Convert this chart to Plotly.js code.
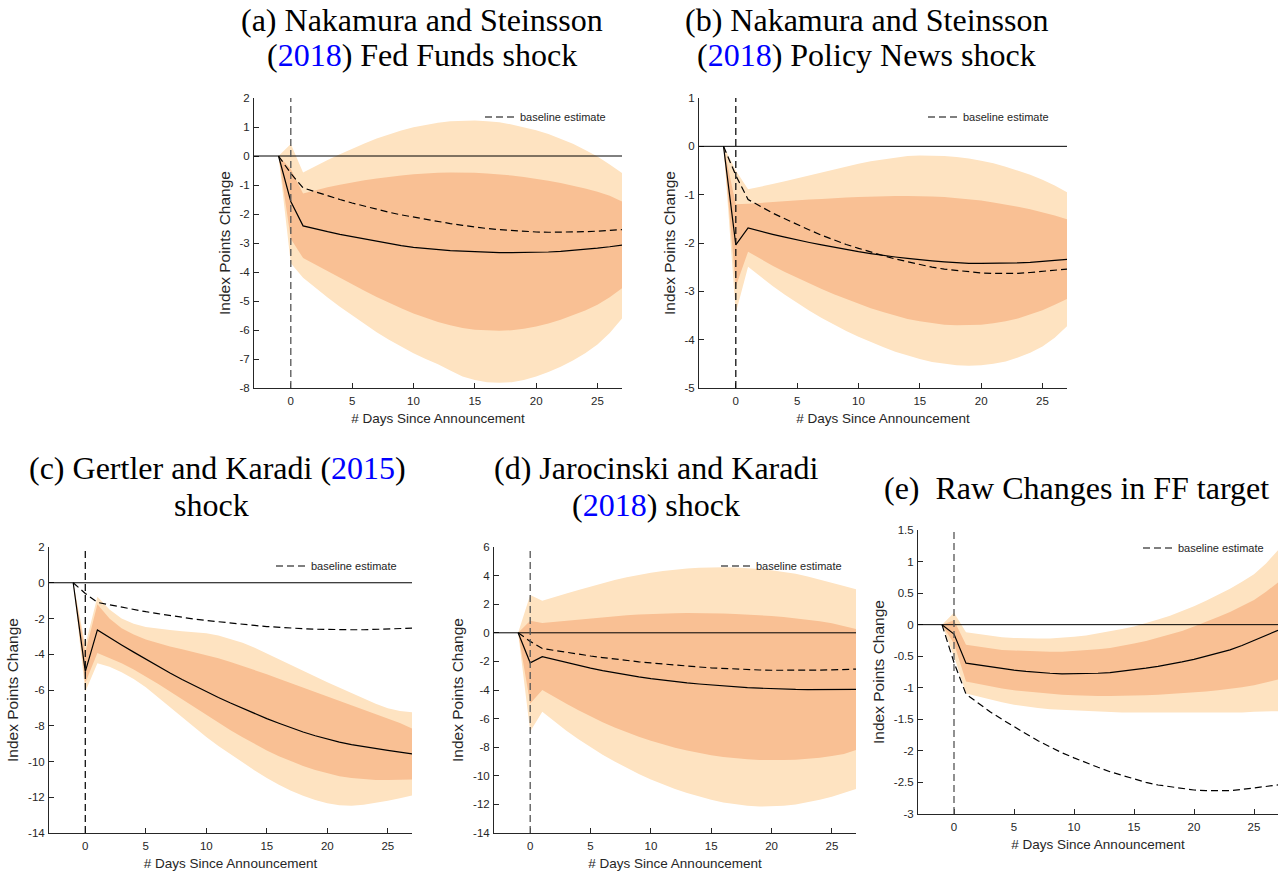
<!DOCTYPE html>
<html><head><meta charset="utf-8">
<script src="https://cdn.plot.ly/plotly-3.0.1.min.js"></script>
<style>html,body{margin:0;padding:0;background:#fff}#chart{width:1288px;height:873px}</style>
</head><body><div id="chart"></div>
<script>
// ---- data: days since announcement ----
const days = [-1,0,1,2,3,4,5,6,7,8,9,10,11,12,13,14,15,16,17,18,19,20,21,22,23,24,25,26,27];
const xTicks = [0,5,10,15,20,25];
const legendLabel = 'baseline estimate';
const panelTitles = [
  ['(a) Nakamura and Steinsson', '(<span style="color:#0000ff">2018</span>) Fed Funds shock'],
  ['(b) Nakamura and Steinsson', '(<span style="color:#0000ff">2018</span>) Policy News shock'],
  ['(c) Gertler and Karadi (<span style="color:#0000ff">2015</span>)', 'shock'],
  ['(d) Jarocinski and Karadi', '(<span style="color:#0000ff">2018</span>) shock'],
  ['(e)  Raw Changes in FF target']
];
const xTitle = '# Days Since Announcement';
const yTitle = 'Index Points Change';

// baseline estimate (same in every panel)
const baselineEstimate = [0,-0.6,-1.1,-1.24,-1.38,-1.5,-1.62,-1.73,-1.84,-1.94,-2.03,-2.11,-2.19,-2.26,-2.33,-2.39,-2.45,-2.5,-2.54,-2.57,-2.6,-2.62,-2.63,-2.63,-2.63,-2.61,-2.59,-2.57,-2.54];

// (a) Fed Funds shock
const aIRF    = [0,-1.57,-2.41,-2.52,-2.61,-2.7,-2.78,-2.87,-2.95,-3.02,-3.09,-3.15,-3.19,-3.23,-3.26,-3.28,-3.3,-3.32,-3.33,-3.33,-3.33,-3.32,-3.31,-3.29,-3.26,-3.22,-3.18,-3.13,-3.07];
const aOutHi  = [0,0.41,-0.57,-0.35,-0.14,0.06,0.25,0.43,0.6,0.75,0.88,0.99,1.08,1.15,1.2,1.22,1.22,1.2,1.16,1.09,1.0,0.89,0.76,0.6,0.42,0.21,-0.02,-0.29,-0.59];
const aInHi   = [0,-0.45,-1.29,-1.18,-1.08,-0.99,-0.91,-0.84,-0.78,-0.72,-0.67,-0.63,-0.6,-0.58,-0.57,-0.57,-0.58,-0.6,-0.63,-0.67,-0.72,-0.78,-0.85,-0.93,-1.02,-1.12,-1.23,-1.37,-1.57];
const aInLo   = [0,-2.85,-3.52,-3.75,-3.97,-4.2,-4.43,-4.65,-4.86,-5.06,-5.25,-5.43,-5.58,-5.72,-5.84,-5.93,-5.99,-6.02,-6.03,-6.01,-5.96,-5.88,-5.78,-5.65,-5.5,-5.33,-5.13,-4.87,-4.56];
const aOutLo  = [0,-3.7,-4.2,-4.55,-4.88,-5.2,-5.5,-5.8,-6.08,-6.34,-6.58,-6.8,-7.0,-7.18,-7.4,-7.6,-7.72,-7.8,-7.82,-7.8,-7.72,-7.6,-7.45,-7.27,-7.05,-6.8,-6.5,-6.1,-5.6];

// (b) Policy News shock
const bIRF    = [0,-2.04,-1.69,-1.76,-1.82,-1.88,-1.94,-1.99,-2.04,-2.09,-2.14,-2.18,-2.22,-2.26,-2.29,-2.32,-2.35,-2.37,-2.39,-2.41,-2.42,-2.42,-2.42,-2.42,-2.41,-2.4,-2.38,-2.36,-2.34];
const bOutHi  = [0,-0.5,-0.89,-0.84,-0.78,-0.72,-0.66,-0.6,-0.53,-0.47,-0.41,-0.36,-0.31,-0.27,-0.23,-0.2,-0.19,-0.19,-0.2,-0.22,-0.25,-0.3,-0.35,-0.42,-0.5,-0.59,-0.69,-0.81,-0.95];
const bInHi   = [0,-1.2,-1.19,-1.17,-1.15,-1.14,-1.12,-1.1,-1.09,-1.07,-1.06,-1.05,-1.04,-1.03,-1.03,-1.03,-1.03,-1.04,-1.05,-1.07,-1.09,-1.12,-1.16,-1.2,-1.25,-1.3,-1.36,-1.43,-1.51];
const bInLo   = [0,-2.9,-2.18,-2.33,-2.47,-2.6,-2.72,-2.84,-2.95,-3.06,-3.16,-3.26,-3.35,-3.43,-3.5,-3.57,-3.62,-3.66,-3.69,-3.7,-3.7,-3.69,-3.66,-3.62,-3.56,-3.48,-3.39,-3.28,-3.16];
const bOutLo  = [0,-3.45,-2.49,-2.69,-2.89,-3.07,-3.24,-3.4,-3.55,-3.69,-3.82,-3.94,-4.05,-4.15,-4.25,-4.33,-4.4,-4.46,-4.5,-4.53,-4.54,-4.53,-4.5,-4.45,-4.37,-4.27,-4.14,-3.96,-3.72];

// (c) Gertler and Karadi shock
const cIRF    = [0,-4.97,-2.64,-3.07,-3.48,-3.88,-4.28,-4.67,-5.05,-5.41,-5.76,-6.1,-6.42,-6.73,-7.03,-7.32,-7.6,-7.86,-8.11,-8.35,-8.56,-8.76,-8.92,-9.06,-9.18,-9.29,-9.38,-9.48,-9.57];
const cOutHi  = [0,-3.5,-0.78,-1.5,-2.0,-2.3,-2.48,-2.58,-2.65,-2.71,-2.76,-2.82,-2.95,-3.13,-3.35,-3.64,-3.97,-4.28,-4.6,-4.93,-5.25,-5.56,-5.87,-6.17,-6.47,-6.77,-7.02,-7.17,-7.24];
const cInHi   = [0,-3.9,-1.2,-2.0,-2.55,-2.9,-3.17,-3.38,-3.56,-3.72,-3.88,-4.05,-4.23,-4.43,-4.65,-4.88,-5.12,-5.37,-5.62,-5.88,-6.13,-6.38,-6.63,-6.88,-7.12,-7.36,-7.6,-7.85,-8.15];
const cInLo   = [0,-5.6,-3.93,-4.2,-4.5,-4.85,-5.24,-5.65,-6.08,-6.52,-6.96,-7.4,-7.83,-8.25,-8.65,-9.03,-9.38,-9.7,-9.99,-10.25,-10.48,-10.67,-10.82,-10.93,-11.0,-11.03,-11.04,-11.03,-11.0];
const cOutLo  = [0,-6.1,-4.5,-4.7,-5.0,-5.38,-5.84,-6.4,-6.98,-7.55,-8.1,-8.63,-9.13,-9.6,-10.05,-10.5,-10.92,-11.3,-11.63,-11.92,-12.15,-12.33,-12.45,-12.47,-12.42,-12.33,-12.2,-12.05,-11.9];

// (d) Jarocinski and Karadi shock
const dIRF    = [0,-2.1,-1.67,-1.88,-2.08,-2.28,-2.47,-2.64,-2.8,-2.95,-3.08,-3.2,-3.31,-3.41,-3.5,-3.58,-3.65,-3.72,-3.78,-3.83,-3.87,-3.91,-3.94,-3.96,-3.97,-3.97,-3.97,-3.96,-3.95];
const dOutHi  = [0,2.64,2.25,2.48,2.75,3.0,3.25,3.48,3.7,3.89,4.06,4.2,4.32,4.42,4.5,4.55,4.58,4.59,4.57,4.53,4.47,4.38,4.27,4.13,3.93,3.73,3.5,3.28,3.05];
const dInHi   = [0,0.85,0.68,0.76,0.85,0.94,1.02,1.1,1.17,1.23,1.28,1.32,1.35,1.37,1.38,1.38,1.37,1.35,1.32,1.28,1.23,1.17,1.1,1.01,0.91,0.8,0.66,0.48,0.26];
const dInLo   = [0,-4.95,-4.0,-4.5,-4.97,-5.42,-5.85,-6.25,-6.62,-6.96,-7.27,-7.55,-7.8,-8.03,-8.23,-8.41,-8.56,-8.68,-8.78,-8.85,-8.89,-8.91,-8.9,-8.87,-8.81,-8.73,-8.62,-8.47,-8.2];
const dOutLo  = [0,-6.9,-5.52,-6.2,-6.85,-7.45,-8.0,-8.52,-9.0,-9.45,-9.87,-10.25,-10.6,-10.92,-11.2,-11.45,-11.67,-11.86,-12.0,-12.1,-12.15,-12.15,-12.1,-12.0,-11.86,-11.68,-11.47,-11.22,-10.93];

// (e) Raw changes in FF target
const eIRF    = [0,-0.15,-0.61,-0.64,-0.67,-0.7,-0.72,-0.74,-0.76,-0.77,-0.78,-0.78,-0.78,-0.77,-0.76,-0.74,-0.72,-0.69,-0.66,-0.63,-0.59,-0.55,-0.5,-0.45,-0.4,-0.33,-0.25,-0.17,-0.09];
const eOutHi  = [0,0.19,-0.12,-0.15,-0.18,-0.2,-0.21,-0.22,-0.22,-0.22,-0.21,-0.19,-0.17,-0.14,-0.11,-0.07,-0.03,0.02,0.08,0.14,0.21,0.29,0.38,0.47,0.57,0.68,0.8,0.97,1.18];
const eInHi   = [0,0.07,-0.32,-0.35,-0.38,-0.4,-0.41,-0.42,-0.43,-0.43,-0.43,-0.42,-0.41,-0.39,-0.37,-0.34,-0.3,-0.26,-0.21,-0.16,-0.1,-0.03,0.04,0.12,0.2,0.29,0.39,0.52,0.67];
const eInLo   = [0,-0.3,-0.9,-0.94,-0.98,-1.01,-1.04,-1.06,-1.08,-1.1,-1.11,-1.12,-1.13,-1.13,-1.13,-1.13,-1.12,-1.12,-1.11,-1.1,-1.09,-1.07,-1.06,-1.04,-1.02,-0.99,-0.96,-0.92,-0.87];
const eOutLo  = [0,-0.5,-1.09,-1.14,-1.19,-1.23,-1.27,-1.3,-1.32,-1.34,-1.35,-1.36,-1.37,-1.38,-1.38,-1.39,-1.39,-1.39,-1.4,-1.4,-1.4,-1.4,-1.4,-1.39,-1.39,-1.39,-1.38,-1.38,-1.37];

const yTicksA = [-8,-7,-6,-5,-4,-3,-2,-1,0,1,2];
const yTicksB = [-5,-4,-3,-2,-1,0,1];
const yTicksC = [-14,-12,-10,-8,-6,-4,-2,0,2];
const yTicksD = [-14,-12,-10,-8,-6,-4,-2,0,2,4,6];
const yTicksE = [-3,-2.5,-2,-1.5,-1,-0.5,0,0.5,1,1.5];

// ---- styling / layout ----
const W = 1288, H = 873;
const LIGHT = 'rgb(254,227,193)', DARK = 'rgb(249,192,148)', AX = '#262626';
const SANS = 'Liberation Sans, Arial, sans-serif', SERIF = 'Liberation Serif, Times New Roman, serif';
const px = v => v / W, py = v => 1 - v / H;

const panels = [
  {irf:aIRF, oh:aOutHi, ih:aInHi, il:aInLo, ol:aOutLo, ticks:yTicksA, box:[254,622,98,388], vcol:'#555555', leg:[485,117],
   title:[[422,20],[422,55]]},
  {irf:bIRF, oh:bOutHi, ih:bInHi, il:bInLo, ol:bOutLo, ticks:yTicksB, box:[699,1067,98,388], vcol:'#111111', leg:[928,117],
   title:[[866,20],[866,55]]},
  {irf:cIRF, oh:cOutHi, ih:cInHi, il:cInLo, ol:cOutLo, ticks:yTicksC, box:[49,412,547,833], vcol:'#111111', leg:[276,566],
   title:[[217,468],[211,505]]},
  {irf:dIRF, oh:dOutHi, ih:dInHi, il:dInLo, ol:dOutLo, ticks:yTicksD, box:[494,856,547,833], vcol:'#555555', leg:[721,566],
   title:[[656,468],[656,505]]},
  {irf:eIRF, oh:eOutHi, ih:eInHi, il:eInLo, ol:eOutLo, ticks:yTicksE, box:[918,1278,530,814], vcol:'#555555', leg:[1143,548],
   title:[[1076,488]]}
];

const traces = [], shapes = [], annotations = [];
const layout = {width:W, height:H, margin:{l:0,r:0,t:0,b:0}, paper_bgcolor:'#fff', plot_bgcolor:'rgba(0,0,0,0)',
  showlegend:true, font:{family:SANS, color:AX}};

panels.forEach((p, i) => {
  const n = i + 1;
  const xa = 'x' + (n === 1 ? '' : n), ya = 'y' + (n === 1 ? '' : n);
  const xk = 'xaxis' + (n === 1 ? '' : n), yk = 'yaxis' + (n === 1 ? '' : n);
  const lg = 'legend' + (n === 1 ? '' : n);
  const base = {x:days, xaxis:xa, yaxis:ya, showlegend:false, hoverinfo:'skip', legend:lg};
  traces.push(Object.assign({}, base, {y:p.ol, mode:'lines', line:{width:0, color:LIGHT}}));
  traces.push(Object.assign({}, base, {y:p.oh, mode:'lines', line:{width:0, color:LIGHT}, fill:'tonexty', fillcolor:LIGHT}));
  traces.push(Object.assign({}, base, {y:p.il, mode:'lines', line:{width:0, color:DARK}}));
  traces.push(Object.assign({}, base, {y:p.ih, mode:'lines', line:{width:0, color:DARK}, fill:'tonexty', fillcolor:DARK}));
  traces.push(Object.assign({}, base, {y:baselineEstimate, mode:'lines', name:legendLabel, showlegend:true,
    line:{color:'#000', width:1.2, dash:'7px,4px'}}));
  traces.push(Object.assign({}, base, {y:p.irf, mode:'lines', line:{color:'#000', width:1.2}}));

  const [l, r, t, b] = p.box;
  const yr = [p.ticks[0], p.ticks[p.ticks.length - 1]];
  layout[xk] = {domain:[px(l), px(r)], range:[-3, 27], anchor:ya, tickvals:xTicks, ticktext:xTicks.map(String),
    ticks:'inside', ticklen:5, tickcolor:AX, showline:true, linecolor:AX, linewidth:1, showgrid:false, zeroline:false,
    tickfont:{size:11.5, color:AX, family:SANS}, ticklabelstandoff:2, fixedrange:true,
    title:{text:xTitle, font:{size:13.5, color:AX, family:SANS}, standoff:7}};
  layout[yk] = {domain:[py(b), py(t)], range:yr, anchor:xa, tickvals:p.ticks, ticktext:p.ticks.map(String),
    ticks:'inside', ticklen:5, tickcolor:AX, showline:true, linecolor:AX, linewidth:1, showgrid:false, zeroline:false,
    tickfont:{size:11.5, color:AX, family:SANS}, ticklabelstandoff:1, fixedrange:true,
    title:{text:yTitle, font:{size:15.5, color:AX, family:SANS}, standoff:5}};
  layout[lg] = {x:px(p.leg[0] - 5), y:py(p.leg[1]), xanchor:'left', yanchor:'middle', bgcolor:'rgba(0,0,0,0)',
    borderwidth:0, itemwidth:30, font:{size:11, color:AX, family:SANS}};

  shapes.push({type:'line', xref:xa, yref:ya, x0:-3, x1:27, y0:0, y1:0, line:{color:'#000', width:1}, layer:'above'});
  shapes.push({type:'line', xref:xa, yref:ya, x0:0, x1:0, y0:yr[0], y1:yr[1], line:{color:p.vcol, width:1.3, dash:'7px,4px'}, layer:'above'});

  p.title.forEach((pos, k) => {
    annotations.push({xref:'paper', yref:'paper', x:px(pos[0]), y:py(pos[1]), xanchor:'center', yanchor:'middle',
      showarrow:false, text:panelTitles[i][k], font:{family:SERIF, size:32, color:'#000'}});
  });
});
layout.shapes = shapes;
layout.annotations = annotations;

Plotly.newPlot('chart', traces, layout, {displayModeBar:false, staticPlot:true});
</script>
</body></html>
